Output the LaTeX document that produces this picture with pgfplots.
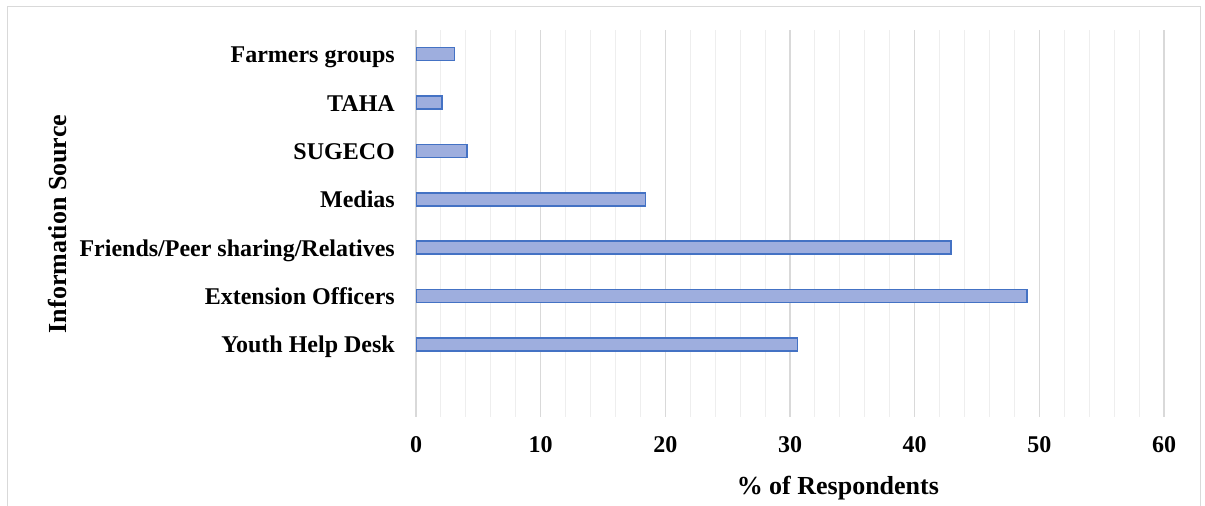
\documentclass[border=0pt]{standalone}
\usepackage{fontspec}
\setmainfont{Liberation Serif}
\usepackage{pgfplots}
\pgfplotsset{compat=1.18}
\definecolor{barfill}{HTML}{9EAEDE}
\definecolor{baredge}{HTML}{4472C4}
\definecolor{majgrid}{HTML}{D9D9D9}
\definecolor{mingrid}{HTML}{EEEEEE}
\begin{document}
\begin{tikzpicture}[x=1bp,y=1bp]
\path[use as bounding box] (0,0) rectangle (1205,506);
\draw[majgrid, line width=1bp] (7,-10) rectangle (1200,499);
\begin{axis}[
    at={(416bp,89bp)}, anchor=south west,
    scale only axis, width=748bp, height=387bp,
    xmin=0, xmax=60, ymin=-0.5, ymax=7.5,
    xbar, bar width=13bp,
    xtick={0,10,...,60}, minor x tick num=4,
    ytick={1,...,7},
    yticklabels={Youth Help Desk, Extension Officers, Friends/Peer sharing/Relatives, Medias, SUGECO, TAHA, Farmers groups},
    xmajorgrids, xminorgrids, ymajorgrids=false,
    major grid style={majgrid, line width=1.2bp},
    minor grid style={mingrid, line width=1bp},
    axis line style={draw=none},
    major tick length=0, minor tick length=0,
    tick label style={font=\fontsize{24bp}{28bp}\selectfont\bfseries},
    /pgf/number format/assume math mode=true,
    xticklabel style={anchor=center, yshift=-28bp},
    yticklabel style={anchor=base east, inner sep=0pt, xshift=-21bp, yshift=-8.5bp},
    xlabel={\% of Respondents},
    ylabel={Information Source},
    label style={font=\fontsize{26bp}{30bp}\selectfont\bfseries},
    xlabel style={at={(axis description cs:0.564,-0.1835)}, anchor=center},
    ylabel style={at={(axis description cs:-0.4786,0.4987)}, anchor=center, rotate=0},
]
\addplot[fill=barfill, draw=baredge, line width=1.5bp]
    coordinates {(30.6,1) (49.0,2) (42.9,3) (18.4,4) (4.1,5) (2.1,6) (3.1,7)};
\end{axis}
\end{tikzpicture}
\end{document}
